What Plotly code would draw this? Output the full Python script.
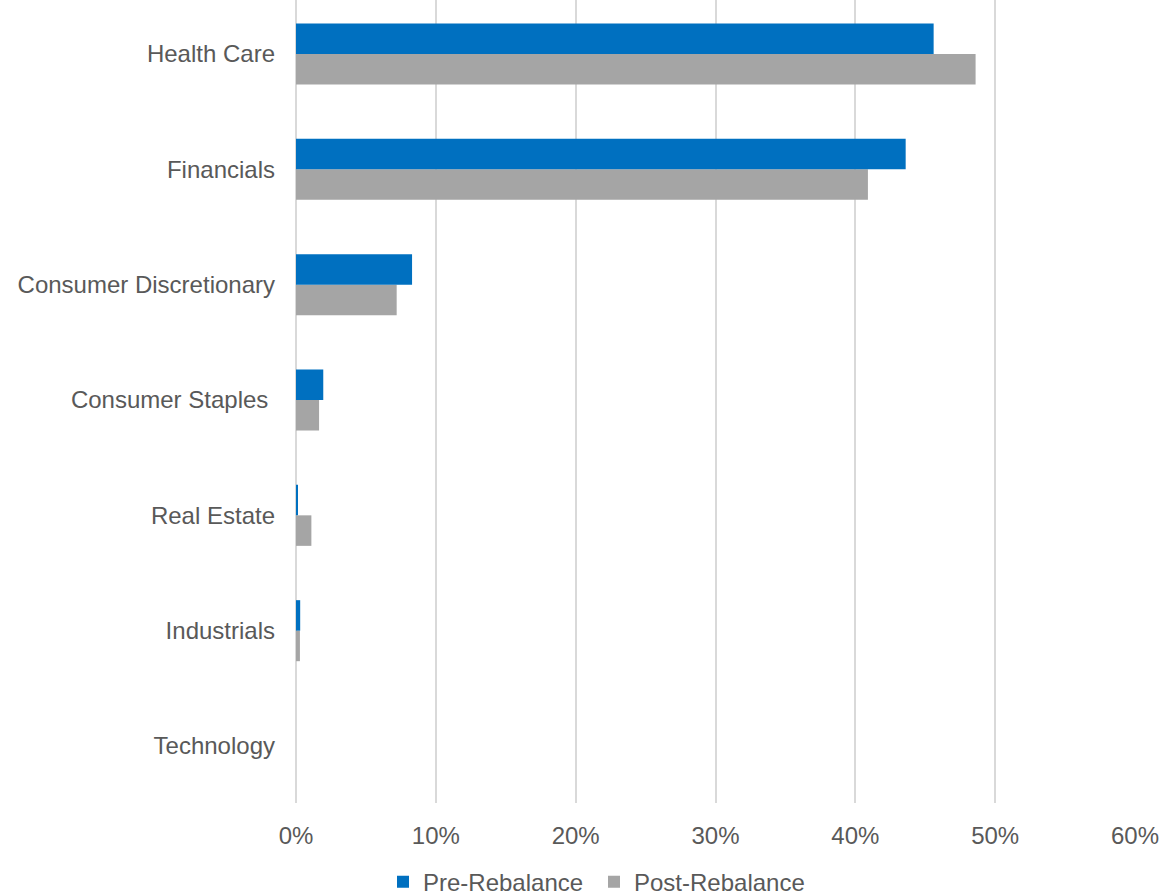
import plotly.graph_objects as go

categories = ["Health Care", "Financials", "Consumer Discretionary", "Consumer Staples\u00a0",
              "Real Estate", "Industrials", "Technology"]
pre_rebalance = [45.6, 43.6, 8.3, 1.95, 0.08, 0.3, 0.0]
post_rebalance = [48.6, 40.9, 7.2, 1.65, 1.1, 0.28, 0.0]
x_ticks = [0, 10, 20, 30, 40, 50, 60]
x_tick_labels = ["0%", "10%", "20%", "30%", "40%", "50%", "60%"]

font_family = "Liberation Sans, Arial, sans-serif"
text_color = "#595959"

fig = go.Figure()
# Post added first so that Pre sits above it within each group
fig.add_trace(go.Bar(y=categories, x=post_rebalance, orientation="h", name="Post-Rebalance",
                     marker=dict(color="#A5A5A5", line=dict(width=0)), legendrank=2))
fig.add_trace(go.Bar(y=categories, x=pre_rebalance, orientation="h", name="Pre-Rebalance",
                     marker=dict(color="#0070C0", line=dict(width=0)), legendrank=1))

fig.update_layout(
    width=1161, height=895,
    margin=dict(l=296, r=26, t=0, b=92, autoexpand=False),
    paper_bgcolor="white", plot_bgcolor="white",
    barmode="group", bargap=0.471, bargroupgap=0,
    font=dict(family=font_family, size=24, color=text_color),
    showlegend=True,
    legend=dict(orientation="h", x=0.1037, xanchor="left", y=-0.0985, yanchor="middle",
                entrywidth=166, entrywidthmode="pixels",
                font=dict(size=24, color=text_color)),
    xaxis=dict(range=[0, 60], tickvals=x_ticks, ticktext=x_tick_labels, automargin=False,
               showgrid=True, gridcolor="#D9D9D9", gridwidth=1.5,
               zeroline=True, zerolinecolor="#D9D9D9", zerolinewidth=1.5,
               showline=False, ticks="", ticklabelstandoff=16,
               tickfont=dict(size=24, color=text_color)),
    yaxis=dict(categoryorder="array", categoryarray=categories[::-1], automargin=False,
               range=[-0.494, 6.468], showgrid=False, zeroline=False, showline=False,
               ticks="", ticklabelstandoff=20,
               tickfont=dict(size=24, color=text_color)),
)

fig.write_html(
    "out.html",
    config={"displayModeBar": False},
    post_script="document.documentElement.style.margin='0';document.body.style.margin='0';"
                "document.documentElement.style.overflow='hidden';document.body.style.overflow='hidden';",
)
